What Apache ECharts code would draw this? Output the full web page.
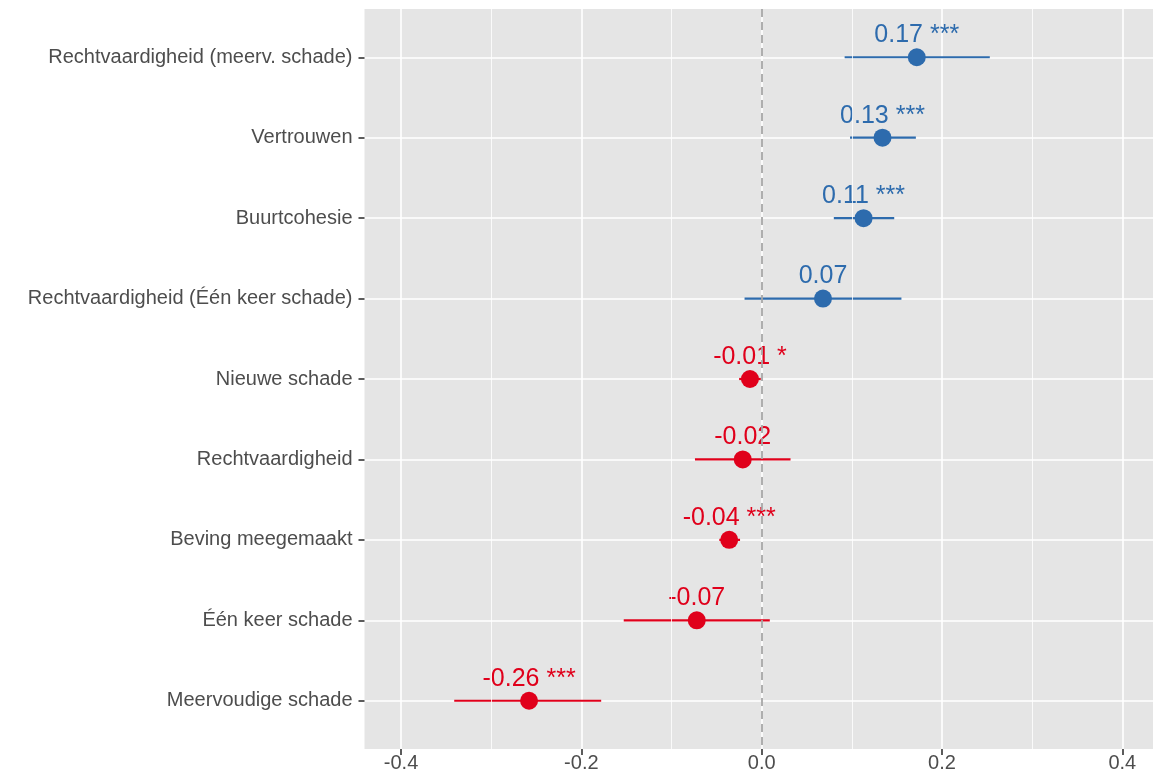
<!DOCTYPE html>
<html>
<head>
<meta charset="utf-8">
<title>Coefficient plot</title>
<script src="https://cdn.jsdelivr.net/npm/echarts@6/dist/echarts.min.js"></script>
<style>
  html, body { margin: 0; padding: 0; background: #ffffff; }
  #chart { width: 1153px; height: 780px; }
</style>
</head>
<body>
<div id="chart"></div>
<script>
// rows, top to bottom
const categories = [
  'Rechtvaardigheid (meerv. schade)',
  'Vertrouwen',
  'Buurtcohesie',
  'Rechtvaardigheid (Één keer schade)',
  'Nieuwe schade',
  'Rechtvaardigheid',
  'Beving meegemaakt',
  'Één keer schade',
  'Meervoudige schade'
];
const estimates = [0.172, 0.134, 0.113, 0.068, -0.013, -0.021, -0.036, -0.072, -0.258];
const lower = [0.092, 0.098, 0.080, -0.019, -0.025, -0.074, -0.047, -0.153, -0.341];
const upper = [0.253, 0.171, 0.147, 0.155, -0.001, 0.032, -0.024, 0.009, -0.178];
const stars = ['***', '***', '***', '', '*', '', '***', '', '***'];

// axis ticks
const xTicks = [-0.4, -0.2, 0, 0.2, 0.4];
const xMinorTicks = [-0.3, -0.1, 0.1, 0.3];
const rows = categories.map((c, i) => i + 1);

const BLUE = '#2D6BAD';
const RED = '#E0001B';
const FONT = '"Liberation Sans", Arial, Helvetica, sans-serif';

const colorFor = est => (est > 0 ? BLUE : RED);

const chart = echarts.init(document.getElementById('chart'));

const option = {
  animation: false,
  textStyle: { fontFamily: FONT },
  grid: {
    left: 364.5,
    right: 0,
    top: 9,
    bottom: 31,
    show: true,
    backgroundColor: '#E5E5E5',
    borderWidth: 0
  },
  xAxis: {
    type: 'value',
    min: -0.4405,
    max: 0.434,
    axisLine: { show: false, onZero: false },
    axisTick: {
      show: true,
      inside: false,
      customValues: xTicks,
      length: 6,
      lineStyle: { color: '#333333', width: 1.6 }
    },
    axisLabel: {
      customValues: xTicks,
      fontSize: 20,
      color: '#4D4D4D',
      margin: 4,
      fontFamily: FONT,
      formatter: v => v.toFixed(1)
    },
    splitLine: { show: true, lineStyle: { color: '#FFFFFF', width: 1.6 } }
  },
  yAxis: {
    type: 'value',
    inverse: true,
    min: 0.4,
    max: 9.6,
    axisLine: { show: false, onZero: false },
    axisTick: {
      show: true,
      inside: false,
      customValues: rows,
      length: 6,
      lineStyle: { color: '#333333', width: 1.6 }
    },
    axisLabel: {
      customValues: rows,
      fontSize: 20,
      color: '#4D4D4D',
      margin: 12,
      padding: [4, 0, 0, 0],
      fontFamily: FONT,
      formatter: v => categories[Math.round(v) - 1] || ''
    },
    splitLine: { show: true, lineStyle: { color: '#FFFFFF', width: 1.6 } }
  },
  series: [
    {
      // minor grid lines and the dashed zero reference line
      type: 'scatter',
      data: [],
      silent: true,
      z: 1,
      markLine: {
        silent: true,
        symbol: 'none',
        animation: false,
        label: { show: false },
        data: xMinorTicks.map(v => ({
          xAxis: v,
          lineStyle: { color: '#FFFFFF', width: 0.8, type: 'solid' }
        })).concat([{
          xAxis: 0,
          lineStyle: { color: '#A6A6A6', width: 1.8, type: [8, 5] }
        }])
      }
    },
    {
      type: 'custom',
      silent: true,
      z: 3,
      encode: { x: [0, 1], y: 2 },
      data: estimates.map((e, i) => [lower[i], upper[i], i + 1, e]),
      renderItem: (params, api) => {
        const y = api.value(2);
        const p1 = api.coord([api.value(0), y]);
        const p2 = api.coord([api.value(1), y]);
        return {
          type: 'line',
          shape: { x1: p1[0], y1: p1[1], x2: p2[0], y2: p2[1] },
          style: { stroke: colorFor(api.value(3)), lineWidth: 2.2 }
        };
      }
    },
    {
      type: 'scatter',
      silent: true,
      z: 4,
      symbolSize: 18,
      itemStyle: { opacity: 1 },
      data: estimates.map((e, i) => ({
        value: [e, i + 1],
        itemStyle: { color: colorFor(e), opacity: 1 },
        label: { color: colorFor(e) }
      })),
      label: {
        show: true,
        position: 'inside',
        offset: [0, -22],
        fontSize: 25,
        fontFamily: FONT,
        formatter: p => {
          const txt = estimates[p.dataIndex].toFixed(2);
          return stars[p.dataIndex] ? txt + ' ' + stars[p.dataIndex] : txt;
        }
      }
    }
  ]
};

chart.setOption(option);
</script>
</body>
</html>
